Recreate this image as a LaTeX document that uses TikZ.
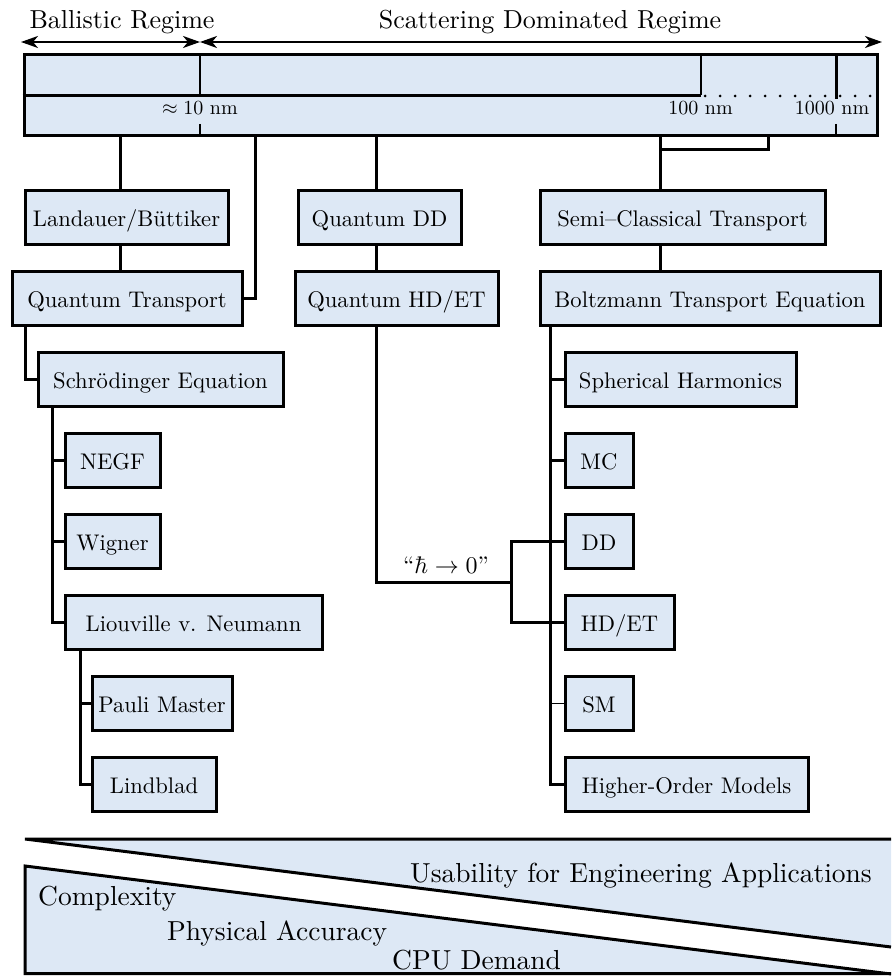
\documentclass[tikz,border=0pt]{standalone}
\usetikzlibrary{arrows.meta}
\definecolor{lb}{RGB}{221,232,245}
\newcommand{\sx}[2]{\scalebox{#1}{#2}}
\begin{document}
\begin{tikzpicture}[x=1pt,y=-1pt,
  bx/.style={draw, line width=3pt, fill=lb, inner xsep=5pt, inner ysep=0pt, minimum height=54pt, text height=17pt, text depth=0pt},
  ln/.style={line width=3pt},
  thn/.style={line width=1.3pt},
  lbl/.style={inner sep=0pt, anchor=base},
]
\useasboundingbox (0,0) rectangle (891,976);

% regime arrows
\coordinate (aL) at (21,42);
\coordinate (aM) at (200,42);
\coordinate (aR) at (882,42);
\draw[line width=2pt, {Stealth[length=17pt,width=12pt,inset=5pt]}-{Stealth[length=17pt,width=12pt,inset=5pt]}] (aL) -- (aM);
\draw[line width=2pt, {Stealth[length=17pt,width=12pt,inset=5pt]}-{Stealth[length=17pt,width=12pt,inset=5pt]}] (aM) -- (aR);
\node[lbl] (balT) at (122,29) {\sx{2.6}{Ballistic Regime}};
\node[lbl] (scaT) at (550,29) {\sx{2.6}{Scattering Dominated Regime}};

% length scale bar
\node[draw, line width=3pt, fill=lb, inner sep=0pt, minimum width=853pt, minimum height=81pt] (bar) at (450.5,95.5) {};
\draw[ln] (bar.west) -- (701,95.5);
\draw[thn] (200,55) -- (200,95.5);
\draw[thn] (200,124) -- (200,135);
\draw[thn] (701,55) -- (701,95.5);
\draw[ln] (836,55) -- (836,99);
\draw[thn] (836,124) -- (836,135);
\draw[line width=3pt, dash pattern=on 0pt off 15pt, line cap=round] (705,96) -- (877,96);
\node[lbl] (l10) at (200,115) {\sx{2.0}{$\approx 10$ nm}};
\node[lbl] (l100) at (700.5,115) {\sx{2.0}{100 nm}};
\node[lbl] (l1000) at (832,115) {\sx{2.0}{1000 nm}};

% boxes
\node[bx, minimum width=203pt] (LB) at (126.5,217.5) {\sx{2.26}{Landauer/Büttiker}};
\node[bx, minimum width=230pt] (QT) at (127,298.5) {\sx{2.26}{Quantum Transport}};
\node[bx, minimum width=163pt] (QDD) at (379.5,217.5) {\sx{2.26}{Quantum DD}};
\node[bx, minimum width=203pt] (QHD) at (396.5,298.5) {\sx{2.26}{Quantum HD/ET}};
\node[bx, minimum width=285pt] (SCT) at (682.5,217.5) {\sx{2.26}{Semi--Classical Transport}};
\node[bx, minimum width=340pt] (BTE) at (710,298.5) {\sx{2.26}{Boltzmann Transport Equation}};
\node[bx, minimum width=245pt] (SE) at (160.5,379.5) {\sx{2.26}{Schrödinger Equation}};
\node[bx, minimum width=95pt] (NEGF) at (112.5,460.5) {\sx{2.26}{NEGF}};
\node[bx, minimum width=95pt] (WIG) at (112.5,541.5) {\sx{2.26}{Wigner}};
\node[bx, minimum width=257pt] (LVN) at (193.5,622.5) {\sx{2.26}{Liouville v. Neumann}};
\node[bx, minimum width=140pt] (PM) at (162,703.5) {\sx{2.26}{Pauli Master}};
\node[bx, minimum width=124pt] (LIN) at (154,784.5) {\sx{2.26}{Lindblad}};
\node[bx, minimum width=231pt] (SH) at (680.5,379.5) {\sx{2.26}{Spherical Harmonics}};
\node[bx, minimum width=68pt] (MC) at (599,460.5) {\sx{2.26}{MC}};
\node[bx, minimum width=68pt] (DD) at (599,541.5) {\sx{2.26}{DD}};
\node[bx, minimum width=109pt] (HDET) at (619.5,622.5) {\sx{2.26}{HD/ET}};
\node[bx, minimum width=68pt] (SM) at (599,703.5) {\sx{2.26}{SM}};
\node[bx, minimum width=243pt] (HOM) at (686.5,784.5) {\sx{2.26}{Higher-Order Models}};

% connectors
\coordinate (sA) at (120,0);
\coordinate (sB) at (255,298.5);
\coordinate (sC) at (376,0);
\coordinate (sD) at (660,150);
\coordinate (sE) at (768,150);
\coordinate (sF) at (25,379.5);
\coordinate (sG) at (52,0);
\coordinate (sH) at (80,0);
\coordinate (sI) at (550,0);
\coordinate (sJ) at (511,582);

\draw[ln] (bar.south -| sA) -- (LB.north -| sA);
\draw[ln] (LB.south -| sA) -- (QT.north -| sA);
\draw[ln] (bar.south -| sB) -- (sB) -- (QT.east);
\draw[ln] (bar.south -| sC) -- (QDD.north -| sC);
\draw[ln] (QDD.south -| sC) -- (QHD.north -| sC);
\draw[ln] (bar.south -| sD) -- (SCT.north -| sD);
\draw[ln] (bar.south -| sE) -- (sE) -- (sD);
\draw[ln] (SCT.south -| sD) -- (BTE.north -| sD);

\draw[ln] (QT.south -| sF) -- (sF) -- (SE.west);
\draw[ln] (SE.south -| sG) |- (LVN.west);
\draw[ln] (NEGF.west -| sG) -- (NEGF.west);
\draw[ln] (WIG.west -| sG) -- (WIG.west);
\draw[ln] (LVN.south -| sH) |- (LIN.west);
\draw[ln] (PM.west -| sH) -- (PM.west);

\draw[ln] (BTE.south -| sI) |- (HOM.west);
\draw[ln] (SH.west -| sI) -- (SH.west);
\draw[ln] (MC.west -| sI) -- (MC.west);
\draw[ln] (DD.west -| sI) -- (DD.west);
\draw[ln] (HDET.west -| sI) -- (HDET.west);
\draw[thn] (SM.west -| sI) -- (SM.west);

\draw[ln] (QHD.south -| sC) |- (sJ);
\draw[ln] (DD.west) -| (sJ) |- (HDET.west);
\node[lbl] (hb) at (446,573) {\sx{2.4}{``$\hbar\to0$''}};

% bottom wedges
\fill[lb] (25,839) -- (891,839) -- (891,947) -- cycle;
\draw[ln] (891,839) -- (25,839) -- (891,947);
\fill[lb] (25,866) -- (891,974) -- (891,973.5) -- (25,973.5) -- cycle;
\draw[ln] (891,973.5) -- (25,973.5) -- (25,866) -- (891,974);
\node[lbl, anchor=base east] (usab) at (872,882) {\sx{2.75}{Usability for Engineering Applications}};
\node[lbl, anchor=base west] (cplx) at (38,905) {\sx{2.75}{Complexity}};
\node[lbl, anchor=base west] (phys) at (167,940) {\sx{2.75}{Physical Accuracy}};
\node[lbl, anchor=base west] (cpu) at (392,969) {\sx{2.75}{CPU Demand}};
\end{tikzpicture}
\end{document}
